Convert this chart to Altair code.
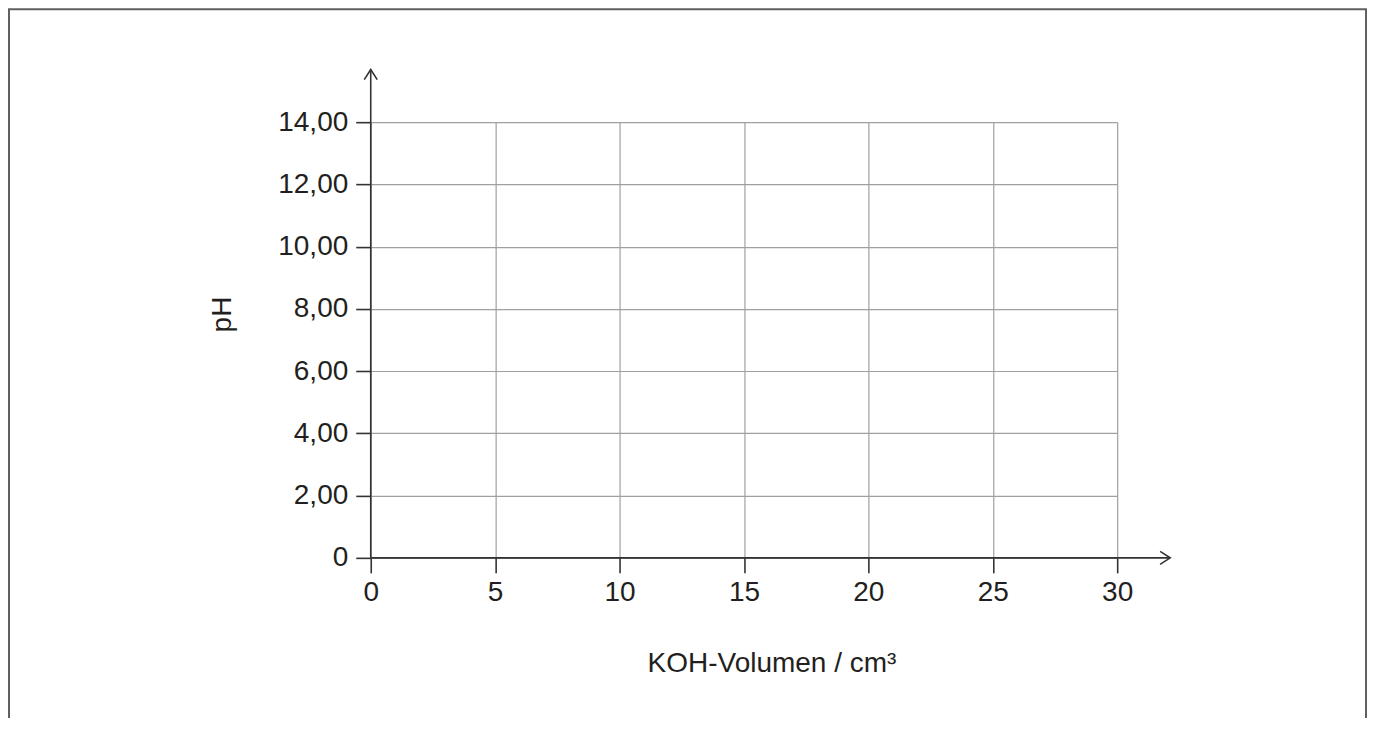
import altair as alt
import pandas as pd

# Axis ticks and labels
x_ticks = [0, 5, 10, 15, 20, 25, 30]
x_tick_labels = ["0", "5", "10", "15", "20", "25", "30"]
y_ticks = [0, 2, 4, 6, 8, 10, 12, 14]
y_tick_labels = ["0", "2,00", "4,00", "6,00", "8,00", "10,00", "12,00", "14,00"]

x_title = "KOH-Volumen / cm³"
y_title = "pH"

# Axis lines with arrow tips (data units)
x_arrow_end = 32.13
y_arrow_end = 15.69

FONT = "Liberation Sans, Arial, sans-serif"
DARK = "#333333"
TEXT = "#231f20"
GRID = "#a0a0a0"


def label_expr(values, labels):
    expr = "''"
    for v, l in reversed(list(zip(values, labels))):
        expr = f"datum.value == {v} ? '{l}' : ({expr})"
    return expr


xscale = alt.Scale(domain=[0, 30], nice=False, zero=False)
yscale = alt.Scale(domain=[0, 14], nice=False, zero=False)

axis_lines = pd.DataFrame({
    "x": [0, 0],
    "y": [0, 0],
    "x2": [x_arrow_end, 0],
    "y2": [0, y_arrow_end],
})

common_axis = dict(
    domain=False,
    grid=True,
    gridColor=GRID,
    gridWidth=1.2,
    ticks=True,
    tickColor=DARK,
    tickWidth=1.6,
    tickSize=15,
    labelFont=FONT,
    labelFontSize=28,
    labelColor=TEXT,
    labelFlush=False,
    labelOverlap=False,
    titleFont=FONT,
    titleFontSize=28,
    titleFontWeight="normal",
    titleColor=TEXT,
)

rules = alt.Chart(axis_lines).mark_rule(color=DARK, strokeWidth=1.6).encode(
    x=alt.X("x:Q", scale=xscale, axis=alt.Axis(
        values=x_ticks,
        labelExpr=label_expr(x_ticks, x_tick_labels),
        labelAlign="center",
        labelBaseline="alphabetic",
        labelPadding=28,
        title=x_title,
        titleX=401,
        titleY=114,
        titleAlign="center",
        titleBaseline="alphabetic",
        **common_axis,
    )),
    x2="x2:Q",
    y=alt.Y("y:Q", scale=yscale, axis=alt.Axis(
        values=y_ticks,
        labelExpr=label_expr(y_ticks, y_tick_labels),
        labelPadding=8,
        labelBaseline="middle",
        title=y_title,
        titleX=-148,
        titleY=192,
        titleAngle=270,
        titleAlign="center",
        titleBaseline="middle",
        **common_axis,
    )),
    y2="y2:Q",
)

arrow_x = alt.Chart(pd.DataFrame({"x": [x_arrow_end], "y": [0]})).mark_point(
    shape="M-1.55,-1L0,0L-1.55,1", filled=False, size=169,
    color=DARK, strokeWidth=1.6, opacity=1,
).encode(x=alt.X("x:Q", scale=xscale), y=alt.Y("y:Q", scale=yscale))

arrow_y = alt.Chart(pd.DataFrame({"x": [0], "y": [y_arrow_end]})).mark_point(
    shape="M-1,1.55L0,0L1,1.55", filled=False, size=169,
    color=DARK, strokeWidth=1.6, opacity=1,
).encode(x=alt.X("x:Q", scale=xscale), y=alt.Y("y:Q", scale=yscale))

frame = alt.Chart(pd.DataFrame({"a": [0]})).mark_rect(
    filled=False, stroke="#606060", strokeWidth=2,
).encode(
    x=alt.value(-362), x2=alt.value(996),
    y=alt.value(-113), y2=alt.value(900),
)

chart = alt.layer(rules, arrow_x, arrow_y, frame).properties(
    width=747,
    height=436,
    padding={"left": 363, "top": 114, "right": 250, "bottom": 160},
    autosize=alt.AutoSizeParams(type="none"),
    background="white",
).configure_view(stroke="transparent")

chart.save("out.html", embed_options={"renderer": "svg", "actions": False})
